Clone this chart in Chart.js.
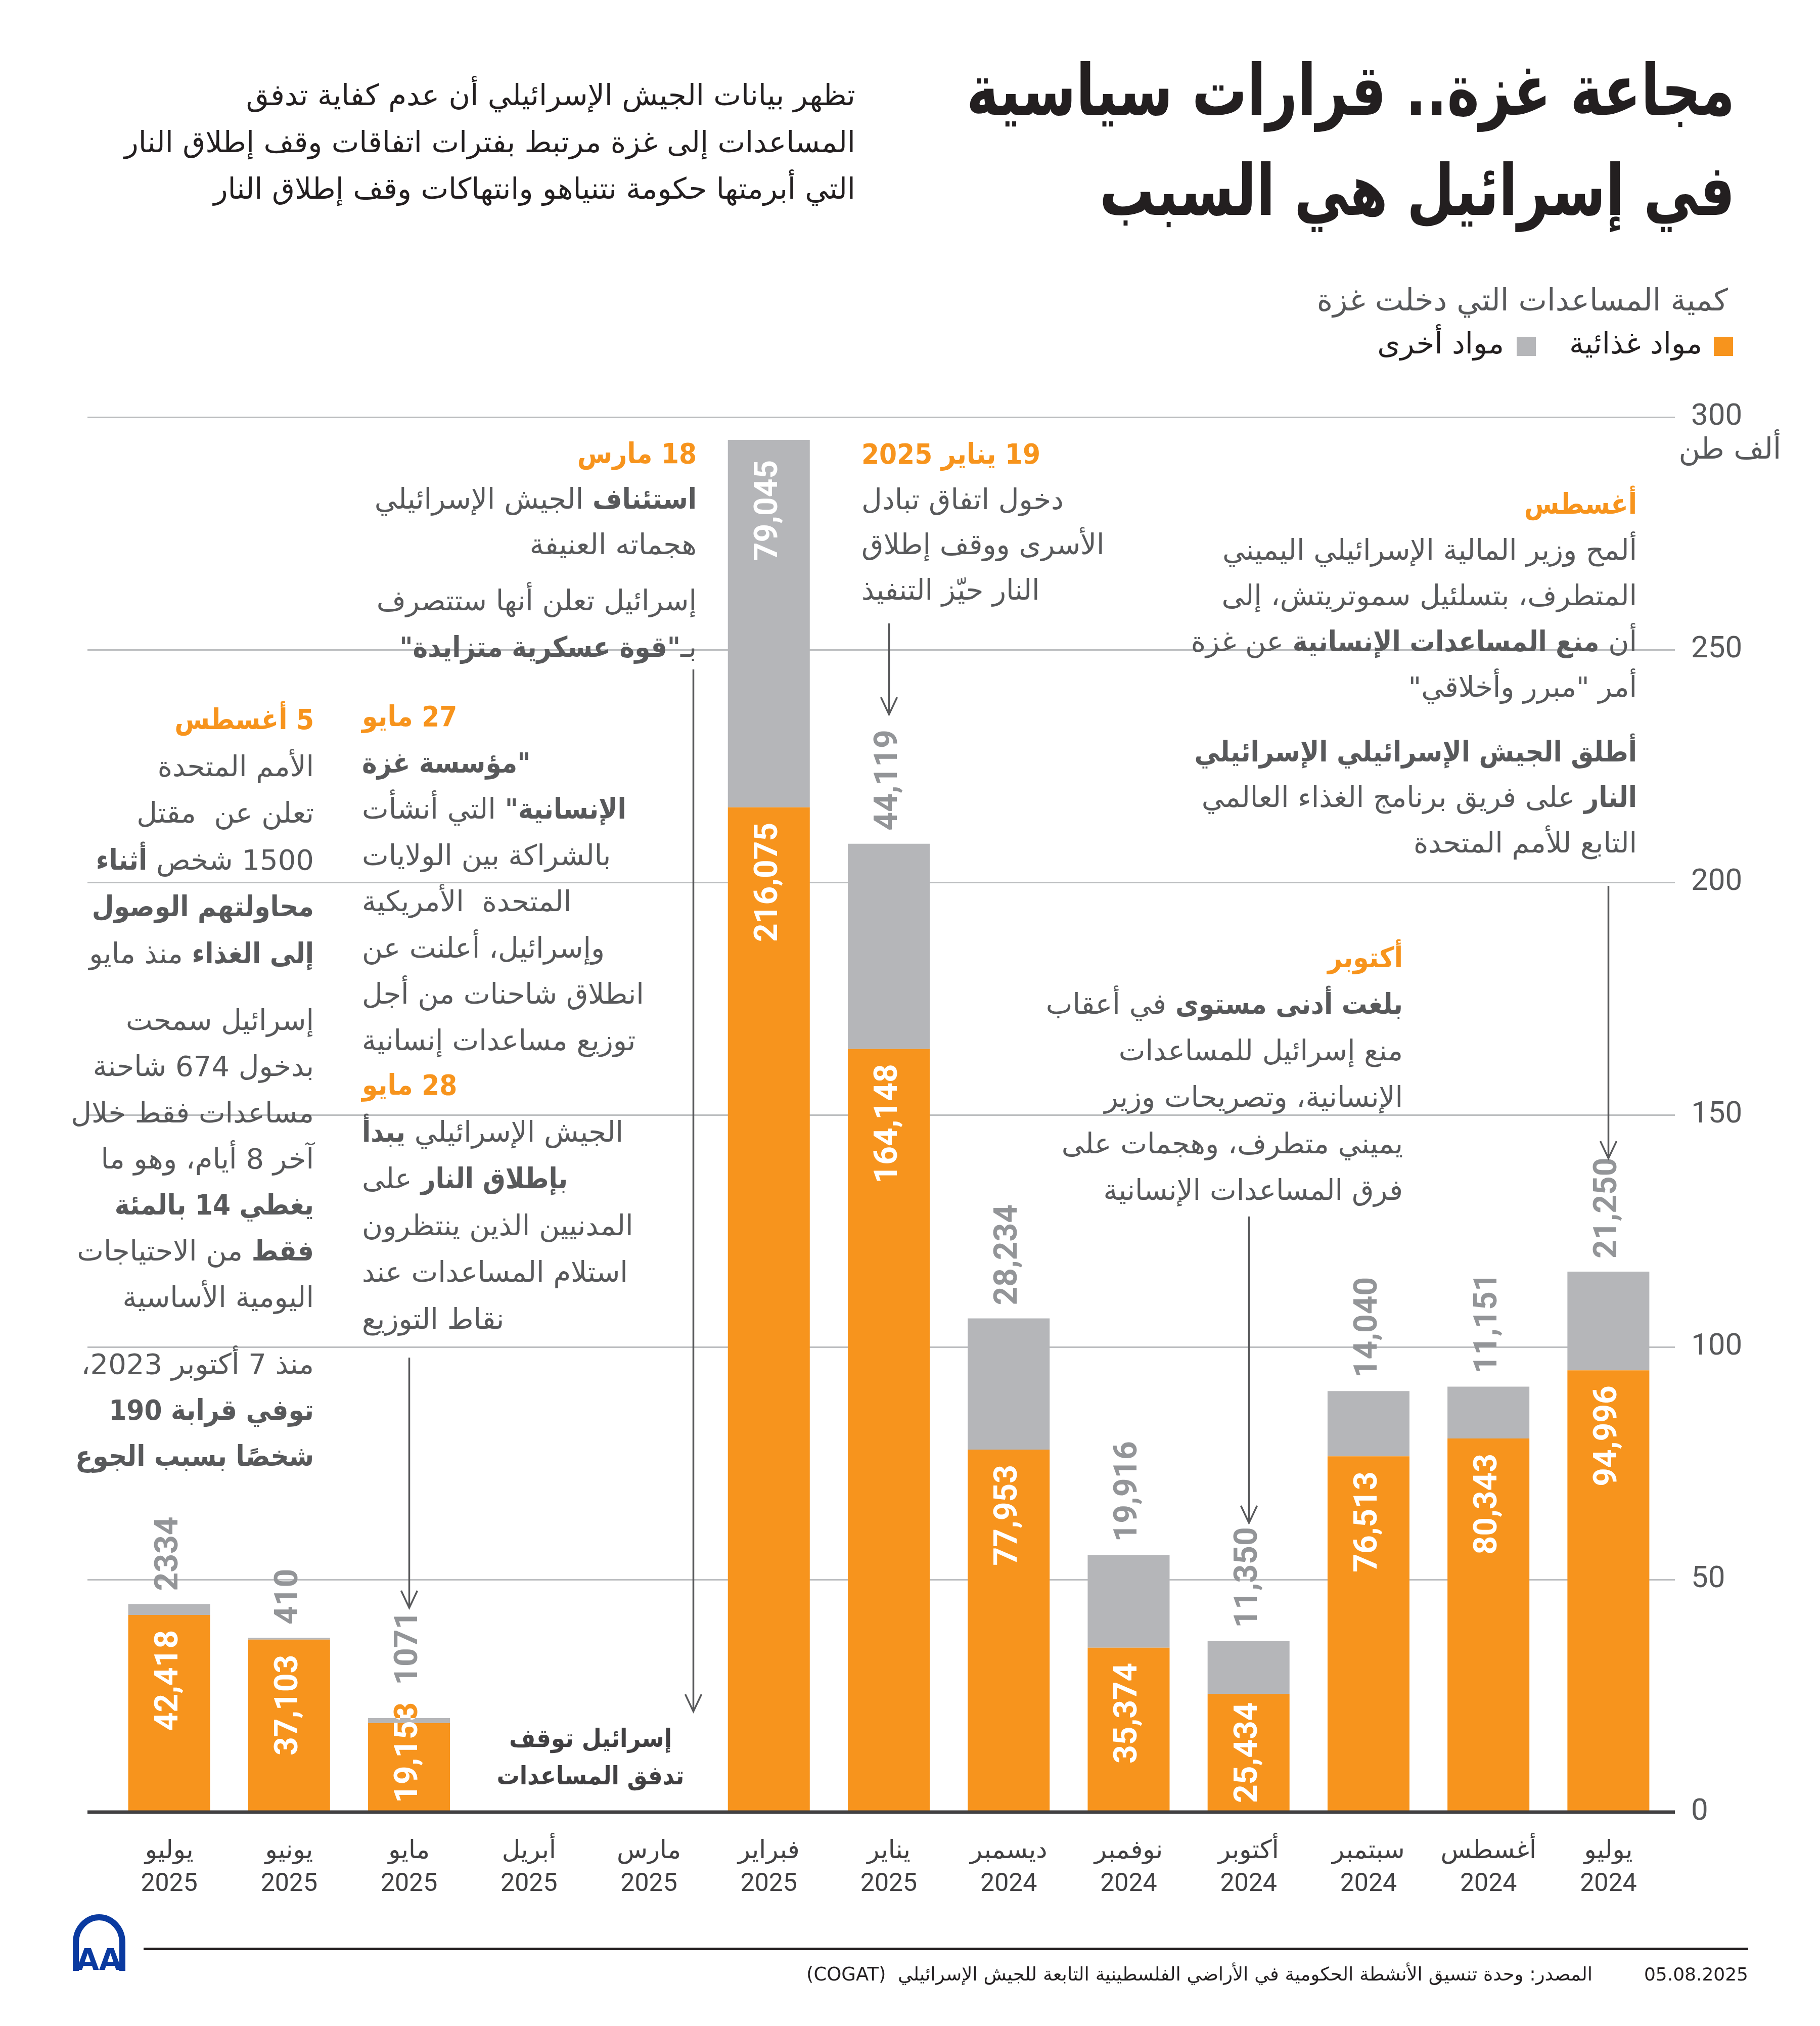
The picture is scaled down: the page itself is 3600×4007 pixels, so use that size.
<!DOCTYPE html>
<html lang="ar">
<head>
<meta charset="utf-8">
<script src="https://cdn.jsdelivr.net/npm/chart.js@4.4.1/dist/chart.umd.min.js"></script>
<style>
html,body{margin:0;padding:0;background:#fff;}
#page{position:relative;width:3600px;height:4007px;overflow:hidden;font-family:"DejaVu Sans",sans-serif;background:#fff;}
#c{position:absolute;left:0;top:0;}
.t{position:absolute;direction:rtl;white-space:nowrap;color:#58595b;font-size:56px;line-height:91px;}
.r{text-align:right}
.l{text-align:left}
.o{color:#f7941d;font-weight:bold;font-family:"DejaVu Sans Condensed","DejaVu Sans",sans-serif;}
b{font-weight:bold;font-family:"DejaVu Sans Condensed","DejaVu Sans",sans-serif;}
</style>
</head>
<body>
<div id="page">
<canvas id="c" width="3600" height="4007"></canvas>

<div class="t r" style="right:168px;top:80px;font-size:140px;line-height:198px;font-weight:bold;color:#231f20;transform:scaleX(0.775);transform-origin:100% 50%;">مجاعة غزة.. قرارات سياسية<br>في إسرائيل هي السبب</div>

<div class="t r" style="right:1908px;top:142px;font-size:58px;line-height:92.5px;color:#231f20;">تظهر بيانات الجيش الإسرائيلي أن عدم كفاية تدفق<br>المساعدات إلى غزة مرتبط بفترات اتفاقات وقف إطلاق النار<br>التي أبرمتها حكومة نتنياهو وانتهاكات وقف إطلاق النار</div>

<div class="t r" style="right:182px;top:548px;font-size:60px;line-height:90px;color:#58595b;">كمية المساعدات التي دخلت غزة</div>

<div style="position:absolute;left:3390px;top:666px;width:38px;height:38px;background:#f7941d;"></div>
<div class="t r" style="right:233px;top:634px;font-size:58px;line-height:90px;color:#231f20;">مواد غذائية</div>
<div style="position:absolute;left:3000px;top:666px;width:38px;height:38px;background:#b5b6b9;"></div>
<div class="t r" style="right:625px;top:634px;font-size:58px;line-height:90px;color:#231f20;">مواد أخرى</div>

<div class="t r" style="right:77px;top:842px;font-size:58px;line-height:90px;color:#58595b;">ألف طن</div>

<!-- August 2024 -->
<div class="t r" style="right:362px;top:952px;line-height:90.5px;"><span class="o">أغسطس</span><br>ألمح وزير المالية الإسرائيلي اليميني<br>المتطرف، بتسلئيل سموتريتش، إلى<br>أن <b>منع المساعدات الإنسانية</b> عن غزة<br>أمر "مبرر وأخلاقي"</div>
<div class="t r" style="right:362px;top:1442px;line-height:90px;"><b>أطلق الجيش الإسرائيلي الإسرائيلي</b><br><b>النار</b> على فريق برنامج الغذاء العالمي<br>التابع للأمم المتحدة</div>

<!-- October 2024 -->
<div class="t r" style="right:825px;top:1848px;line-height:92px;"><span class="o">أكتوبر</span><br><b>بلغت أدنى مستوى</b> في أعقاب<br>منع إسرائيل للمساعدات<br>الإنسانية، وتصريحات وزير<br>يميني متطرف، وهجمات على<br>فرق المساعدات الإنسانية</div>

<!-- 19 January 2025 -->
<div class="t l" style="left:1704px;top:853px;line-height:89.5px;"><span class="o">19 يناير 2025</span><br>دخول اتفاق تبادل<br>الأسرى ووقف إطلاق<br>النار حيّز التنفيذ</div>

<!-- 18 March -->
<div class="t r" style="right:2222px;top:852px;line-height:90px;"><span class="o">18 مارس</span><br><b>استئناف</b> الجيش الإسرائيلي<br>هجماته العنيفة</div>
<div class="t r" style="right:2222px;top:1142px;line-height:92px;">إسرائيل تعلن أنها ستتصرف<br>بـ<b>"قوة عسكرية متزايدة"</b></div>

<!-- 27 May -->
<div class="t l" style="left:716px;top:1371px;line-height:91.5px;"><span class="o">27 مايو</span><br><b>"مؤسسة غزة</b><br><b>الإنسانية"</b> التي أنشأت<br>بالشراكة بين الولايات<br>المتحدة&nbsp; الأمريكية<br>وإسرائيل، أعلنت عن<br>انطلاق شاحنات من أجل<br>توزيع مساعدات إنسانية</div>

<!-- 28 May -->
<div class="t l" style="left:716px;top:2100px;line-height:92.5px;"><span class="o">28 مايو</span><br>الجيش الإسرائيلي <b>يبدأ</b><br><b>بإطلاق النار</b> على<br>المدنيين الذين ينتظرون<br>استلام المساعدات عند<br>نقاط التوزيع</div>

<!-- 5 August -->
<div class="t r" style="right:2979px;top:1377px;line-height:92.5px;"><span class="o">5 أغسطس</span><br>الأمم المتحدة<br>تعلن عن&nbsp; مقتل<br>1500 شخص <b>أثناء</b><br><b>محاولتهم الوصول</b><br><b>إلى الغذاء</b> منذ مايو</div>
<div class="t r" style="right:2979px;top:1972px;line-height:91.3px;">إسرائيل سمحت<br>بدخول 674 شاحنة<br>مساعدات فقط خلال<br>آخر 8 أيام، وهو ما<br><b>يغطي 14 بالمئة</b><br><b>فقط</b> من الاحتياجات<br>اليومية الأساسية</div>
<div class="t r" style="right:2979px;top:2652px;line-height:91px;">منذ 7 أكتوبر 2023،<br><b>توفي قرابة 190</b><br><b>شخصًا بسبب الجوع</b></div>

<!-- stop note -->
<div class="t" style="left:968px;width:400px;text-align:center;top:3401px;line-height:74px;font-size:50px;color:#414042;"><b>إسرائيل توقف<br>تدفق المساعدات</b></div>

<!-- footer -->
<div style="position:absolute;left:284px;top:3852px;width:3174px;height:5px;background:#231f20;"></div>
<div class="t r" style="right:450px;top:3878px;font-size:37px;line-height:54px;color:#231f20;">المصدر: وحدة تنسيق الأنشطة الحكومية في الأراضي الفلسطينية التابعة للجيش الإسرائيلي&nbsp; (COGAT)</div>
<div class="t r" style="right:142px;top:3878px;font-size:36px;line-height:54px;color:#231f20;">05.08.2025</div>
<svg style="position:absolute;left:136px;top:3784px;" width="120" height="116" viewBox="0 0 120 116">
  <path d="M14,114 L14,58 A46,50 0 0 1 106,58 L106,114" fill="none" stroke="#0a3aa0" stroke-width="12"/>
  <text x="60" y="112" text-anchor="middle" font-family="DejaVu Sans" font-weight="bold" font-size="58" fill="#0a3aa0">AA</text>
</svg>
</div>

<script>
// ---- data ----
const months = ["يوليو","يونيو","مايو","أبريل","مارس","فبراير","يناير","ديسمبر","نوفمبر","أكتوبر","سبتمبر","أغسطس","يوليو"];
const years  = ["2025","2025","2025","2025","2025","2025","2025","2024","2024","2024","2024","2024","2024"];
const food   = [42418, 37103, 19153, 0, 0, 216075, 164148, 77953, 35374, 25434, 76513, 80343, 94996];
const other  = [2334, 410, 1071, 0, 0, 79045, 44119, 28234, 19916, 11350, 14040, 11151, 21250];
const yTicks = [0, 50, 100, 150, 200, 250, 300]; // thousand tonnes

const ORANGE = '#f7941d', GREY = '#b5b6b9', GREY_TXT = '#939598';
const fmt = v => v >= 10000 ? v.toLocaleString('en-US') : String(v);

// arrows: [category index, offset in category widths, top px, bottom px]
const arrows = [[12,0,1752,2291],[9,0,2406,3012],[6,0,1233,1413],[2,0,2685,3180],[4,0.37,1324,3385]];

const gridPlugin = {
  id:'grid',
  beforeDatasetsDraw(chart){
    const {ctx, scales:{y}} = chart;
    ctx.save();
    ctx.strokeStyle = '#bcbec0'; ctx.lineWidth = 3;
    yTicks.forEach(t=>{
      if (t===0) return;
      const py = Math.round(y.getPixelForValue(t*1000))+0.5;
      ctx.beginPath(); ctx.moveTo(173,py); ctx.lineTo(3313,py); ctx.stroke();
    });
    ctx.restore();
  },
  afterDatasetsDraw(chart){
    const {ctx, scales:{x,y}} = chart;
    ctx.save();
    const b = y.getPixelForValue(0);
    ctx.strokeStyle = '#414042'; ctx.lineWidth = 7;
    ctx.beginPath(); ctx.moveTo(173,b); ctx.lineTo(3313,b); ctx.stroke();

    const m0 = chart.getDatasetMeta(0), m1 = chart.getDatasetMeta(1);
    ctx.font = 'bold 64px Roboto, "DejaVu Sans", sans-serif';
    ctx.textAlign = 'left'; ctx.textBaseline = 'middle';
    const drawRot = (txt, cx, start, color) => {
      ctx.save(); ctx.translate(cx, start); ctx.rotate(-Math.PI/2);
      ctx.fillStyle = color; ctx.fillText(txt, 0, 0); ctx.restore();
    };
    const foodTopEnd = [];
    food.forEach((v,i)=>{
      if (!v) return;
      const bar = m0.data[i];
      const top = m1.data[i].y;
      const txt = fmt(v), w = ctx.measureText(txt).width;
      let start = bar.y + 30 + w;
      if (start > bar.base - 18) start = bar.base - 18;
      foodTopEnd[i] = start - w;
      ctx.save(); ctx.beginPath(); ctx.rect(0, top, 3600, 4007); ctx.clip();
      drawRot(txt, bar.x, start, '#ffffff'); ctx.restore();
      ctx.save(); ctx.beginPath(); ctx.rect(0, 0, 3600, top); ctx.clip();
      drawRot(txt, bar.x, start, ORANGE); ctx.restore();
    });
    other.forEach((v,i)=>{
      if (!v) return;
      const bar = m1.data[i];
      const txt = fmt(v), w = ctx.measureText(txt).width;
      if (bar.y - 28 - w < chart.chartArea.top - 20) {
        drawRot(txt, bar.x, bar.y + 40 + w, '#ffffff');
      } else {
        let start = bar.y - 26;
        if (foodTopEnd[i] !== undefined) start = Math.min(start, foodTopEnd[i] - 34);
        drawRot(txt, bar.x, start, GREY_TXT);
      }
    });

    ctx.strokeStyle = '#58595b'; ctx.lineWidth = 3.5;
    const step = x.getPixelForValue(1) - x.getPixelForValue(0);
    arrows.forEach(([i,off,y1,y2])=>{
      const px = Math.round(x.getPixelForValue(i) + off*step) + 0.5;
      ctx.beginPath(); ctx.moveTo(px,y1); ctx.lineTo(px,y2);
      ctx.moveTo(px-16,y2-34); ctx.lineTo(px,y2); ctx.lineTo(px+16,y2-34);
      ctx.stroke();
    });
    ctx.restore();
  }
};

new Chart(document.getElementById('c').getContext('2d'), {
  type:'bar',
  data:{
    labels: months.map((m,i)=>[m, years[i]]),
    datasets:[
      {label:'مواد غذائية', data:food, backgroundColor:ORANGE, borderWidth:0},
      {label:'مواد أخرى', data:other, backgroundColor:GREY, borderWidth:0}
    ]
  },
  options:{
    responsive:false, animation:false, devicePixelRatio:1,
    layout:{padding:{left:216, right:0, top:825, bottom:223}},
    datasets:{bar:{categoryPercentage:1, barPercentage:0.683}},
    plugins:{legend:{display:false}, tooltip:{enabled:false}},
    scales:{
      x:{
        stacked:true,
        grid:{display:false, drawTicks:false}, border:{display:false},
        ticks:{color:'#414042', font:{size:50, family:'Roboto, "DejaVu Sans", sans-serif', lineHeight:1.3}, padding:46, maxRotation:0, autoSkip:false},
        afterFit(s){ s.height = 200; }
      },
      y:{
        stacked:true, position:'right', min:0, max:300000,
        grid:{display:false, drawTicks:false}, border:{display:false},
        ticks:{stepSize:50000, padding:45, color:'#58595b', font:{size:60, family:'Roboto, sans-serif'}, callback:v=>v/1000},
        afterFit(s){ s.width = 300; }
      }
    }
  },
  plugins:[gridPlugin]
});
</script>
</body>
</html>
